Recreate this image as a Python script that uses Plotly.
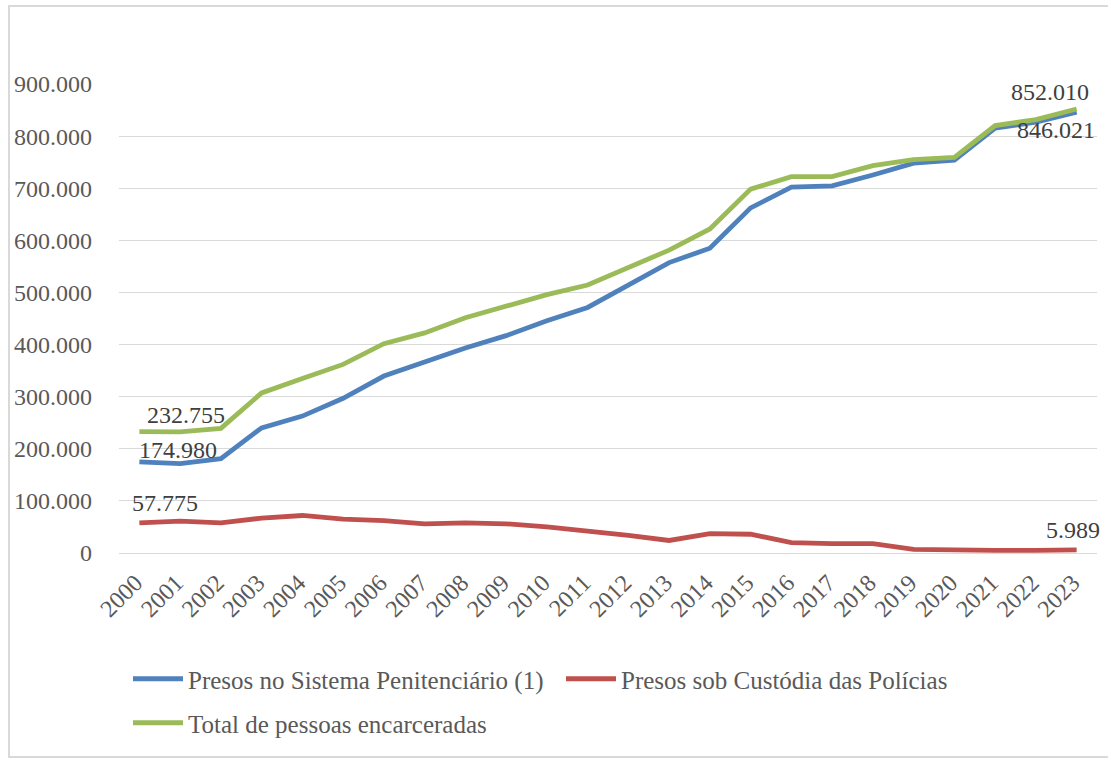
import plotly.graph_objects as go

# Série histórica da população prisional no Brasil (2000-2023)
anos = [str(a) for a in range(2000, 2024)]

sistema_penitenciario = [
    174980, 171366, 181128, 240203, 262710, 296919, 339580, 366359,
    393488, 417112, 445705, 471254, 513713, 557286, 584758, 662285,
    702069, 704395, 725332, 748009, 753966, 815165, 826740, 846021,
]
custodia_policias = [
    57775, 61000, 58000, 67000, 72000, 65000, 62000, 56000,
    58000, 56000, 50000, 43000, 34000, 24000, 37000, 36000,
    20000, 18000, 18000, 7000, 5000, 5000, 5000, 5989,
]
total_encarcerados = [
    232755, 232366, 239128, 307203, 334710, 361919, 401580, 422359,
    451488, 473112, 495705, 514254, 547713, 581286, 621758, 698285,
    722069, 722395, 743332, 755009, 758966, 820165, 831740, 852010,
]

nomes = [
    "Presos no Sistema Penitenciário (1)",
    "Presos sob Custódia das Polícias",
    "Total de pessoas encarceradas",
]
cores = ["#4F81BD", "#C0504D", "#9BBB59"]

FONTE = "Liberation Serif"

fig = go.Figure()
series = [sistema_penitenciario, custodia_policias, total_encarcerados]
legendas = ["legend", "legend", "legend2"]
for nome, valores, cor, leg in zip(nomes, series, cores, legendas):
    fig.add_trace(go.Scatter(
        x=anos, y=valores, name=nome, mode="lines",
        line=dict(color=cor, width=4.8),
        legend=leg, hoverinfo="x+y",
    ))


def fmt(v):
    return f"{v:,}".replace(",", ".")


# Rótulos de dados no primeiro e no último ano
rotulos = [
    (0, total_encarcerados, 47, 17),
    (0, sistema_penitenciario, 39, 12),
    (0, custodia_policias, 26, 20),
    (23, total_encarcerados, -27, 17),
    (23, sistema_penitenciario, -21, -18),
    (23, custodia_policias, -4, 20),
]
for idx, valores, dx, dy in rotulos:
    fig.add_annotation(
        x=idx, y=valores[idx], xref="x", yref="y",
        text=fmt(valores[idx]),
        showarrow=False, xshift=dx, yshift=dy,
        font=dict(family=FONTE, size=24, color="#404040"),
    )

# Moldura da área do gráfico
L, R, T, B = 119, 11, 84, 205
W, H = 1108 - L - R, 758 - T - B


def px_x(p):
    return (p - L) / W


def px_y(p):
    return (758 - B - p) / H


fig.add_shape(
    type="rect", xref="paper", yref="paper",
    x0=px_x(9), x1=px_x(1112), y0=px_y(757), y1=px_y(6),
    line=dict(color="#D9D9D9", width=2), fillcolor="rgba(0,0,0,0)",
    layer="below",
)

leg_font = dict(family=FONTE, size=25, color="#595959")
fig.update_layout(
    width=1108, height=758,
    margin=dict(l=L, r=R, t=T, b=B),
    paper_bgcolor="white", plot_bgcolor="white",
    separators=",.",
    font=dict(family=FONTE, size=24, color="#595959"),
    xaxis=dict(
        type="category", range=[-0.5, 23.5],
        tickangle=-45, showgrid=False, showline=False, ticks="",
        tickfont=dict(family=FONTE, size=24, color="#595959"),
        ticklabelstandoff=10, ticklabelshift=-4, zeroline=False,
    ),
    yaxis=dict(
        range=[0, 900000], dtick=100000, tickformat=",d",
        showgrid=True, gridcolor="#D9D9D9", gridwidth=1.3,
        zeroline=True, zerolinecolor="#D9D9D9", zerolinewidth=1.3,
        showline=False, ticks="",
        tickfont=dict(family=FONTE, size=24, color="#595959"),
        ticklabelstandoff=26,
    ),
    legend=dict(
        orientation="h", x=px_x(128), xanchor="left",
        y=px_y(679), yanchor="middle",
        font=leg_font, bgcolor="rgba(0,0,0,0)",
        itemwidth=50, traceorder="normal", entrywidth=368,
    ),
    legend2=dict(
        orientation="h", x=px_x(128), xanchor="left",
        y=px_y(723), yanchor="middle",
        font=leg_font, bgcolor="rgba(0,0,0,0)",
        itemwidth=50,
    ),
    showlegend=True,
)

fig.write_html("out.html")
